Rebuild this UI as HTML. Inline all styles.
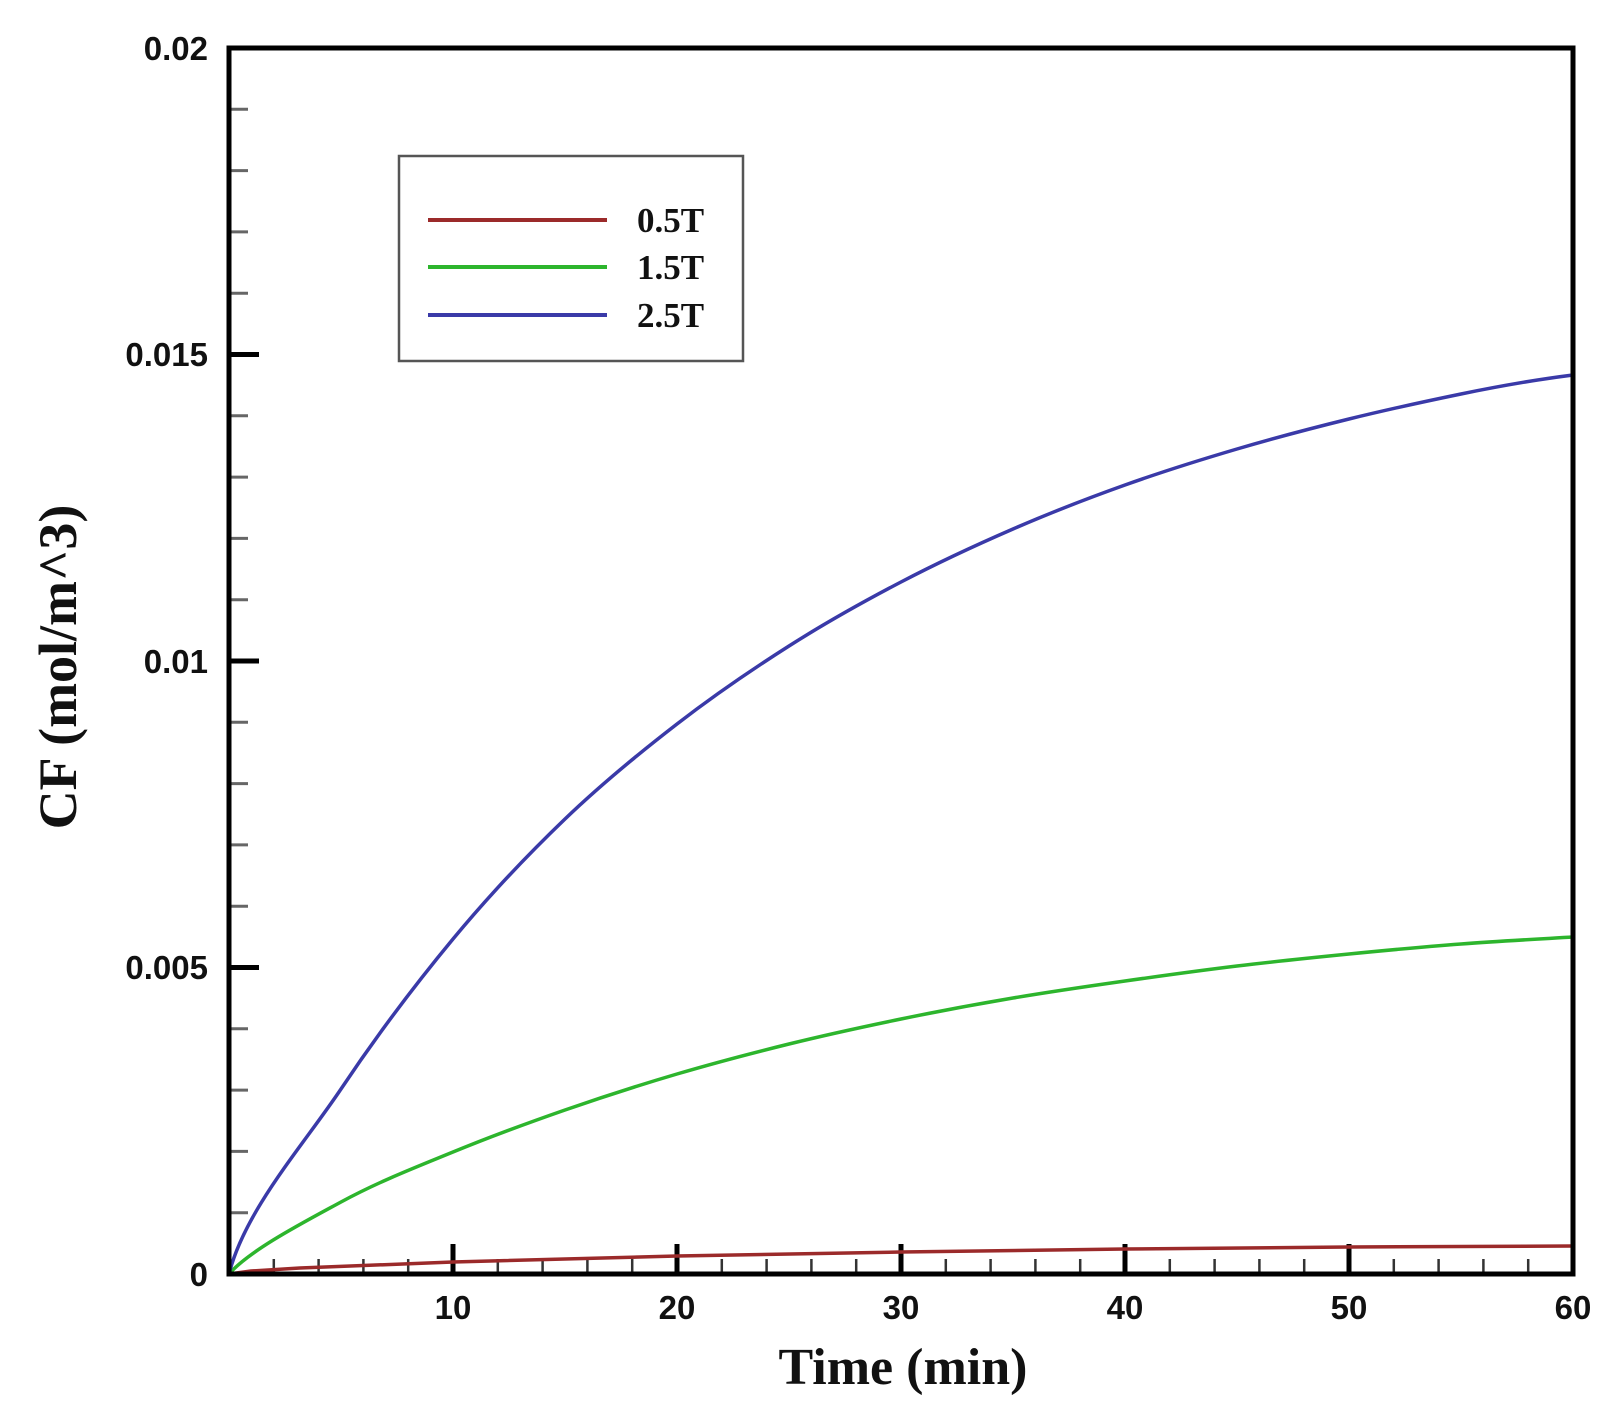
<!DOCTYPE html>
<html><head><style>body{margin:0;background:#fff}</style></head><body>
<svg width="1619" height="1406" xmlns="http://www.w3.org/2000/svg">
<rect width="1619" height="1406" fill="#fff"/>
<g stroke="#666" stroke-width="3">
<line x1="229" y1="1212.7" x2="248" y2="1212.7"/><line x1="229" y1="1151.4" x2="248" y2="1151.4"/><line x1="229" y1="1090.1" x2="248" y2="1090.1"/><line x1="229" y1="1028.8" x2="248" y2="1028.8"/>
<line x1="229" y1="906.2" x2="248" y2="906.2"/><line x1="229" y1="844.9" x2="248" y2="844.9"/><line x1="229" y1="783.6" x2="248" y2="783.6"/><line x1="229" y1="722.3" x2="248" y2="722.3"/>
<line x1="229" y1="599.7" x2="248" y2="599.7"/><line x1="229" y1="538.4" x2="248" y2="538.4"/><line x1="229" y1="477.1" x2="248" y2="477.1"/><line x1="229" y1="415.8" x2="248" y2="415.8"/>
<line x1="229" y1="293.2" x2="248" y2="293.2"/><line x1="229" y1="231.9" x2="248" y2="231.9"/><line x1="229" y1="170.6" x2="248" y2="170.6"/><line x1="229" y1="109.3" x2="248" y2="109.3"/>
</g>
<g stroke="#000" stroke-width="5">
<line x1="229" y1="967.5" x2="259" y2="967.5"/><line x1="229" y1="661" x2="259" y2="661"/><line x1="229" y1="354.5" x2="259" y2="354.5"/>
</g>
<g stroke="#333" stroke-width="2.5">
<line x1="273.8" y1="1274" x2="273.8" y2="1259"/><line x1="318.6" y1="1274" x2="318.6" y2="1259"/><line x1="363.4" y1="1274" x2="363.4" y2="1259"/><line x1="408.2" y1="1274" x2="408.2" y2="1259"/>
<line x1="497.8" y1="1274" x2="497.8" y2="1259"/><line x1="542.6" y1="1274" x2="542.6" y2="1259"/><line x1="587.4" y1="1274" x2="587.4" y2="1259"/><line x1="632.2" y1="1274" x2="632.2" y2="1259"/>
<line x1="721.8" y1="1274" x2="721.8" y2="1259"/><line x1="766.6" y1="1274" x2="766.6" y2="1259"/><line x1="811.4" y1="1274" x2="811.4" y2="1259"/><line x1="856.2" y1="1274" x2="856.2" y2="1259"/>
<line x1="945.8" y1="1274" x2="945.8" y2="1259"/><line x1="990.6" y1="1274" x2="990.6" y2="1259"/><line x1="1035.4" y1="1274" x2="1035.4" y2="1259"/><line x1="1080.2" y1="1274" x2="1080.2" y2="1259"/>
<line x1="1169.8" y1="1274" x2="1169.8" y2="1259"/><line x1="1214.6" y1="1274" x2="1214.6" y2="1259"/><line x1="1259.4" y1="1274" x2="1259.4" y2="1259"/><line x1="1304.2" y1="1274" x2="1304.2" y2="1259"/>
<line x1="1393.8" y1="1274" x2="1393.8" y2="1259"/><line x1="1438.6" y1="1274" x2="1438.6" y2="1259"/><line x1="1483.4" y1="1274" x2="1483.4" y2="1259"/><line x1="1528.2" y1="1274" x2="1528.2" y2="1259"/>
</g>
<g stroke="#000" stroke-width="5">
<line x1="453" y1="1274" x2="453" y2="1244"/><line x1="677" y1="1274" x2="677" y2="1244"/><line x1="901" y1="1274" x2="901" y2="1244"/><line x1="1125" y1="1274" x2="1125" y2="1244"/><line x1="1349" y1="1274" x2="1349" y2="1244"/>
</g>
<g fill="none" stroke-width="3.5" stroke-linejoin="round">
<polyline stroke="#9b2a2a" points="229,1274 251,1271 300,1268 453,1262 677,1256 901,1252 1125,1249 1349,1247 1573,1246"/>
<path stroke="#2db52d" d="M229,1274 C250,1250 303.7,1222.3 341,1202 S415.7,1167.3 453,1152 S527.7,1123 565,1110 S639.7,1085 677,1074 S751.7,1053.2 789,1044 S863.7,1026.7 901,1019 S975.7,1004.3 1013,998 S1087.7,986.3 1125,981 S1199.7,970.5 1237,966 S1311.7,957.7 1349,954 S1423.7,946.8 1461,944 S1535.7,939.2 1573,937"/>
<path stroke="#3a3aa8" d="M229,1274 C245,1210 303.7,1144.8 341,1089 S415.7,984 453,939 S527.7,854.8 565,819 S639.7,752.8 677,724 S751.7,669.7 789,646 S863.7,601.5 901,582 S975.7,545.2 1013,529 S1087.7,498.3 1125,485 S1199.7,460 1237,449 S1311.7,428.2 1349,419 S1423.7,401.7 1461,394 S1535.7,379.7 1573,375"/>
</g>
<rect x="229" y="48" width="1344" height="1226" fill="none" stroke="#000" stroke-width="5"/>
<rect x="399" y="156" width="344" height="205" fill="#fff" stroke="#555" stroke-width="2.5"/>
<line x1="428" y1="220" x2="607" y2="220" stroke="#9b2a2a" stroke-width="4"/>
<line x1="428" y1="267" x2="607" y2="267" stroke="#2db52d" stroke-width="4"/>
<line x1="428" y1="315" x2="607" y2="315" stroke="#3a3aa8" stroke-width="4"/>
<g font-family="Liberation Serif, serif" font-weight="bold" font-size="35" fill="#111">
<text x="637" y="232">0.5T</text><text x="637" y="279">1.5T</text><text x="637" y="327">2.5T</text>
</g>
<g font-family="Liberation Sans, sans-serif" font-weight="bold" font-size="33" fill="#111" text-anchor="end">
<text x="208" y="60">0.02</text><text x="208" y="366">0.015</text><text x="208" y="673">0.01</text><text x="208" y="979">0.005</text><text x="208" y="1286">0</text>
</g>
<g font-family="Liberation Sans, sans-serif" font-weight="bold" font-size="33" fill="#111" text-anchor="middle">
<text x="453" y="1319">10</text><text x="677" y="1319">20</text><text x="901" y="1319">30</text><text x="1125" y="1319">40</text><text x="1349" y="1319">50</text><text x="1573" y="1319">60</text>
</g>
<text x="903" y="1384" text-anchor="middle" font-family="Liberation Serif, serif" font-weight="bold" font-size="52" fill="#111">Time (min)</text>
<text transform="translate(76,667) rotate(-90)" text-anchor="middle" font-family="Liberation Serif, serif" font-weight="bold" font-size="54" fill="#111">CF (mol/m^3)</text>
</svg>
</body></html>
